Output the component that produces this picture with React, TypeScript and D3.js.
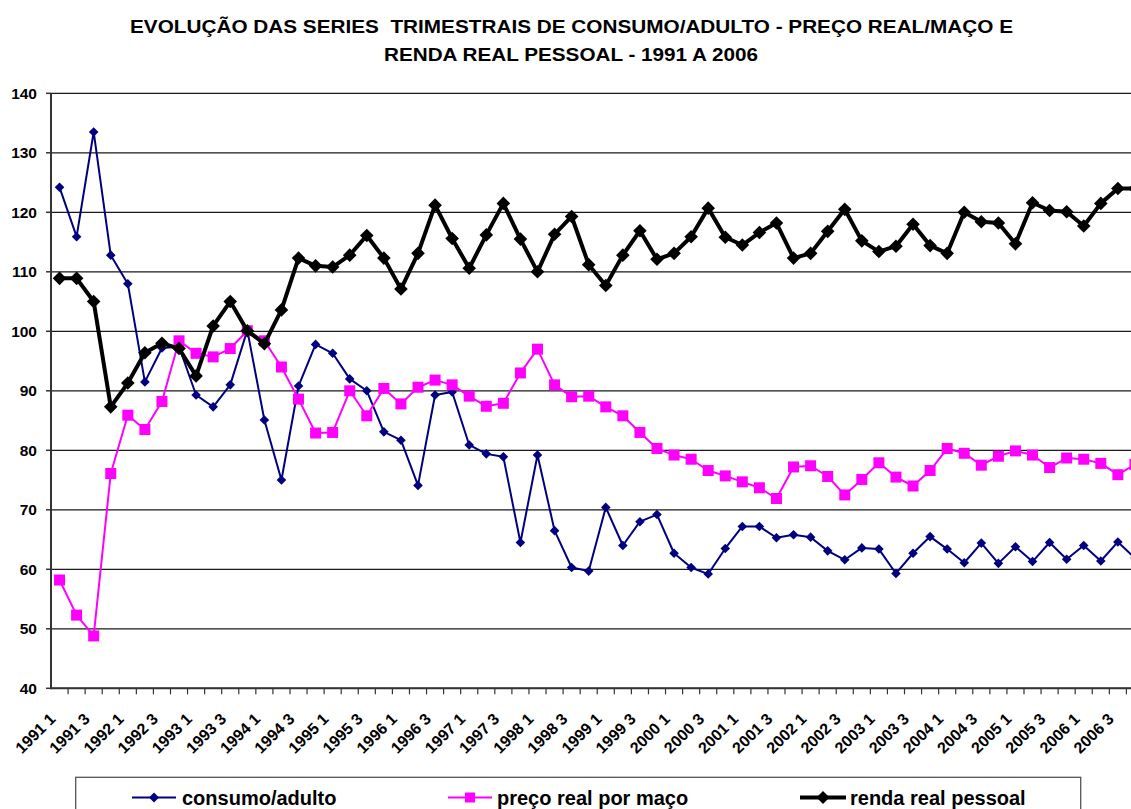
import React from "react";
import * as d3 from "d3";

const categories: string[] = [
  "1991 1", "1991 2", "1991 3", "1991 4", "1992 1", "1992 2", "1992 3", "1992 4",
  "1993 1", "1993 2", "1993 3", "1993 4", "1994 1", "1994 2", "1994 3", "1994 4",
  "1995 1", "1995 2", "1995 3", "1995 4", "1996 1", "1996 2", "1996 3", "1996 4",
  "1997 1", "1997 2", "1997 3", "1997 4", "1998 1", "1998 2", "1998 3", "1998 4",
  "1999 1", "1999 2", "1999 3", "1999 4", "2000 1", "2000 2", "2000 3", "2000 4",
  "2001 1", "2001 2", "2001 3", "2001 4", "2002 1", "2002 2", "2002 3", "2002 4",
  "2003 1", "2003 2", "2003 3", "2003 4", "2004 1", "2004 2", "2004 3", "2004 4",
  "2005 1", "2005 2", "2005 3", "2005 4", "2006 1", "2006 2", "2006 3", "2006 4",
];

const consumo: number[] = [
  124.2, 115.9, 133.5, 112.8, 108.0, 91.5, 97.2, 97.4, 89.3, 87.3,
  91.0, 100.2, 85.1, 75.0, 90.8, 97.8, 96.3, 92.0, 90.0, 83.1,
  81.7, 74.1, 89.3, 89.8, 80.9, 79.4, 78.9, 64.5, 79.2, 66.5,
  60.3, 59.7, 70.4, 64.0, 68.0, 69.2, 62.7, 60.3, 59.2, 63.5,
  67.2, 67.2, 65.3, 65.8, 65.4, 63.1, 61.6, 63.6, 63.4, 59.3,
  62.7, 65.5, 63.4, 61.1, 64.4, 61.0, 63.8, 61.3, 64.5, 61.7,
  64.0, 61.4, 64.6, 61.9,
];

const preco: number[] = [
  58.2, 52.3, 48.8, 76.1, 85.9, 83.5, 88.2, 98.4, 96.3, 95.7,
  97.1, 100.1, 98.4, 94.0, 88.6, 82.9, 83.0, 90.0, 85.8, 90.4,
  87.8, 90.6, 91.8, 91.0, 89.1, 87.4, 87.9, 93.0, 97.0, 91.0,
  89.0, 89.1, 87.3, 85.8, 83.0, 80.3, 79.2, 78.5, 76.6, 75.7,
  74.7, 73.7, 71.9, 77.2, 77.4, 75.6, 72.5, 75.1, 77.9, 75.5,
  74.0, 76.6, 80.3, 79.5, 77.5, 79.0, 79.9, 79.2, 77.1, 78.7,
  78.5, 77.8, 75.9, 77.6,
];

const renda: number[] = [
  108.9, 108.9, 105.0, 87.3, 91.3, 96.4, 98.0, 97.1, 92.5, 100.9,
  105.0, 100.1, 97.9, 103.6, 112.3, 111.0, 110.8, 112.8, 116.1, 112.3,
  107.1, 113.1, 121.2, 115.6, 110.6, 116.2, 121.5, 115.5, 110.0, 116.3,
  119.3, 111.2, 107.7, 112.8, 116.9, 112.1, 113.1, 115.9, 120.7, 115.8,
  114.5, 116.6, 118.2, 112.3, 113.1, 116.8, 120.5, 115.2, 113.4, 114.3,
  118.0, 114.4, 113.1, 120.0, 118.4, 118.2, 114.7, 121.6, 120.3, 120.1,
  117.7, 121.5, 124.0, 124.0,
];

const yTicks: number[] = [40, 50, 60, 70, 80, 90, 100, 110, 120, 130, 140];

const titleLines: string[] = [
  "EVOLUÇÃO DAS SERIES  TRIMESTRAIS DE CONSUMO/ADULTO - PREÇO REAL/MAÇO E",
  "RENDA REAL PESSOAL - 1991 A 2006",
];

const seriesNames: string[] = ["consumo/adulto", "preço real por maço", "renda real pessoal"];

const W = 1131;
const H = 809;
const FONT = "Arial, 'Liberation Sans', sans-serif";

const diamond = (r: number) => `M0,${-r}L${r},0L0,${r}L${-r},0Z`;
const square = (s: number) => `M${-s / 2},${-s / 2}h${s}v${s}h${-s}Z`;

export default function App() {
  const left = 51;
  const step = 17.07;
  const x = d3
    .scaleBand<number>()
    .domain(categories.map((_, i) => i))
    .range([left, left + step * categories.length])
    .paddingInner(0)
    .paddingOuter(0);
  const cx = (i: number) => (x(i) as number) + x.bandwidth() / 2;
  const y = d3.scaleLinear().domain([40, 140]).range([688.3, 93.3]);

  const line = d3
    .line<number>()
    .x((_, i) => cx(i))
    .y((d) => y(d));

  const series = [
    { name: seriesNames[0], data: consumo, color: "#000080", width: 2, marker: diamond(4.8), lm: diamond(5) },
    { name: seriesNames[1], data: preco, color: "#FF00FF", width: 2, marker: square(11), lm: square(10) },
    { name: seriesNames[2], data: renda, color: "#000000", width: 4, marker: diamond(6.8), lm: diamond(6.5) },
  ];

  const legendItems = [
    { x1: 132, x2: 176, tx: 182 },
    { x1: 448, x2: 492, tx: 497 },
    { x1: 800, x2: 846, tx: 850 },
  ];

  const titleSpans = [
    { x: 130, len: 883, y: 33.3 },
    { x: 384, len: 374, y: 60.7 },
  ];

  const x0 = left;
  const xEnd = left + step * categories.length;

  return (
    <svg
      width={W}
      height={H}
      style={{ position: "absolute", left: 0, top: 0, background: "#fff" }}
      fontFamily={FONT}
    >
      <rect x={0} y={0} width={W} height={H} fill="#fff" />
      {/* title */}
      {titleLines.map((t, i) => (
        <text
          key={i}
          x={titleSpans[i].x}
          y={titleSpans[i].y}
          textLength={titleSpans[i].len}
          lengthAdjust="spacingAndGlyphs"
          fontSize={18.5}
          fontWeight="bold"
          fill="#000"
          style={{ whiteSpace: "pre" }}
          xmlSpace="preserve"
        >
          {t}
        </text>
      ))}

      {/* gridlines */}
      {yTicks.map((t) => (
        <line key={t} x1={x0} x2={xEnd} y1={y(t)} y2={y(t)} stroke="#1a1a1a" strokeWidth={1.2} />
      ))}

      {/* y axis */}
      <line x1={x0} x2={x0} y1={y(140)} y2={y(40) + 1} stroke="#333" strokeWidth={2} />
      {yTicks.map((t) => (
        <g key={"yt" + t}>
          <line x1={x0 - 5} x2={x0} y1={y(t)} y2={y(t)} stroke="#333" strokeWidth={1.5} />
          <text
            x={37}
            y={y(t)}
            dy="0.36em"
            textAnchor="end"
            fontSize={15.5}
            fontWeight="bold"
            fill="#000"
          >
            {t}
          </text>
        </g>
      ))}

      {/* x axis */}
      <line x1={x0} x2={xEnd} y1={y(40)} y2={y(40)} stroke="#333" strokeWidth={2} />
      {categories.map((_, i) => (
        <line
          key={"xt" + i}
          x1={(x(i) as number) + step}
          x2={(x(i) as number) + step}
          y1={y(40)}
          y2={y(40) + 6}
          stroke="#333"
          strokeWidth={1.2}
        />
      ))}
      {categories.map((c, i) =>
        i % 2 === 0 ? (
          <text
            key={"xl" + i}
            transform={`translate(${cx(i) - 3},${720}) rotate(-45)`}
            textAnchor="end"
            fontSize={16}
            fontWeight="bold"
            fill="#000"
          >
            {c}
          </text>
        ) : null
      )}

      {/* series */}
      {series.map((s) => (
        <g key={s.name}>
          <path d={line(s.data) as string} fill="none" stroke={s.color} strokeWidth={s.width} strokeLinejoin="round" />
          {s.data.map((v, i) => (
            <path key={i} d={s.marker} transform={`translate(${cx(i)},${y(v)})`} fill={s.color} />
          ))}
        </g>
      ))}

      {/* legend */}
      <rect x={75.7} y={777.3} width={1005} height={60} fill="#fff" stroke="#555" strokeWidth={1.3} />
      {series.map((s, i) => {
        const it = legendItems[i];
        const ly = 797.5;
        return (
          <g key={"lg" + i}>
            <line x1={it.x1} x2={it.x2} y1={ly} y2={ly} stroke={s.color} strokeWidth={s.width} />
            <path d={s.lm} transform={`translate(${(it.x1 + it.x2) / 2},${ly})`} fill={s.color} />
            <text x={it.tx} y={805} fontSize={20} fontWeight="bold" fill="#000">
              {s.name}
            </text>
          </g>
        );
      })}
    </svg>
  );
}
